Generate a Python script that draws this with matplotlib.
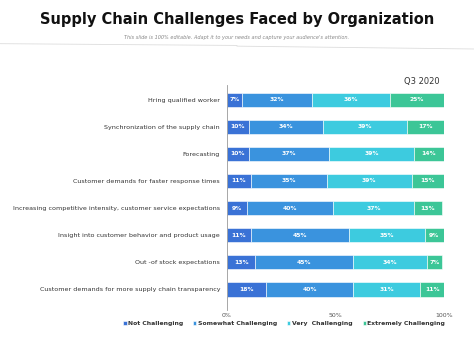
import numpy as np
import matplotlib
matplotlib.use("Agg")
import matplotlib.pyplot as plt
from matplotlib.lines import Line2D

# data (top to bottom)
categories = [
    "Hring qualified worker",
    "Synchronization of the supply chain",
    "Forecasting",
    "Customer demands for faster response times",
    "Increasing competitive intensity, customer service expectations",
    "Insight into customer behavior and product usage",
    "Out -of stock expectations",
    "Customer demands for more supply chain transparency",
]
not_challenging = [7, 10, 10, 11, 9, 11, 13, 18]
somewhat_challenging = [32, 34, 37, 35, 40, 45, 45, 40]
very_challenging = [36, 39, 39, 39, 37, 35, 34, 31]
extremely_challenging = [25, 17, 14, 15, 13, 9, 7, 11]
series_names = ["Not Challenging", "Somewhat Challenging", "Very  Challenging", "Extremely Challenging"]
tick_values = [0, 50, 100]
tick_labels = ["0%", "50%", "100%"]

colors = ["#3a72d6", "#3a93de", "#3dcbdf", "#3cc697"]
series = [not_challenging, somewhat_challenging, very_challenging, extremely_challenging]

fig = plt.figure(figsize=(4.74, 3.55), dpi=100)
fig.patch.set_facecolor("white")

# title and subtitle
fig.text(0.5, 0.945, "Supply Chain Challenges Faced by Organization", ha="center", va="center",
         fontsize=10.5, fontweight="bold", color="#111111")
fig.text(0.5, 0.893, "This slide is 100% editable. Adapt it to your needs and capture your audience's attention.",
         ha="center", va="center", fontsize=3.6, color="#888888", style="italic")
fig.add_artist(Line2D([0.0, 0.5], [0.877, 0.872], color="#dddddd", lw=0.6))
fig.add_artist(Line2D([0.5, 1.0], [0.870, 0.862], color="#dddddd", lw=0.6))

ax = fig.add_axes([0.479, 0.127, 0.458, 0.634])
y = np.arange(len(categories))
left = np.zeros(len(categories))
for vals, col, name in zip(series, colors, series_names):
    vals = np.array(vals, dtype=float)
    bars = ax.barh(y, vals, left=left, height=0.53, color=col, edgecolor="white", linewidth=0.4, label=name)
    for b, v in zip(bars, vals):
        ax.text(b.get_x() + b.get_width() / 2, b.get_y() + b.get_height() / 2, f"{int(v)}%",
                ha="center", va="center", fontsize=4.3, color="white", fontweight="bold")
    left += vals

ax.set_ylim(7.76, -0.55)
ax.set_xlim(0, 100)
ax.set_yticks(y)
ax.set_yticklabels(categories, fontsize=4.6, color="#333333")
ax.set_xticks(tick_values)
ax.set_xticklabels(tick_labels, fontsize=4.5, color="#555555")
ax.tick_params(axis="both", length=0, pad=5)
ax.tick_params(axis="x", pad=2)
for s in ["top", "right", "bottom"]:
    ax.spines[s].set_visible(False)
ax.spines["left"].set_color("#999999")
ax.spines["left"].set_linewidth(0.6)

ax.text(0.98, 0.995, "Q3 2020", transform=ax.transAxes, ha="right", va="bottom", fontsize=6, color="#333333")

leg = fig.legend(loc="center", bbox_to_anchor=(0.6, 0.088), ncol=4, frameon=False,
                 handlelength=0.5, handleheight=0.5, handletextpad=0.3, columnspacing=1.6,
                 prop={"size": 4.4, "weight": "bold"})
for t in leg.get_texts():
    t.set_color("#333333")

fig.savefig("out.png", dpi=100)
